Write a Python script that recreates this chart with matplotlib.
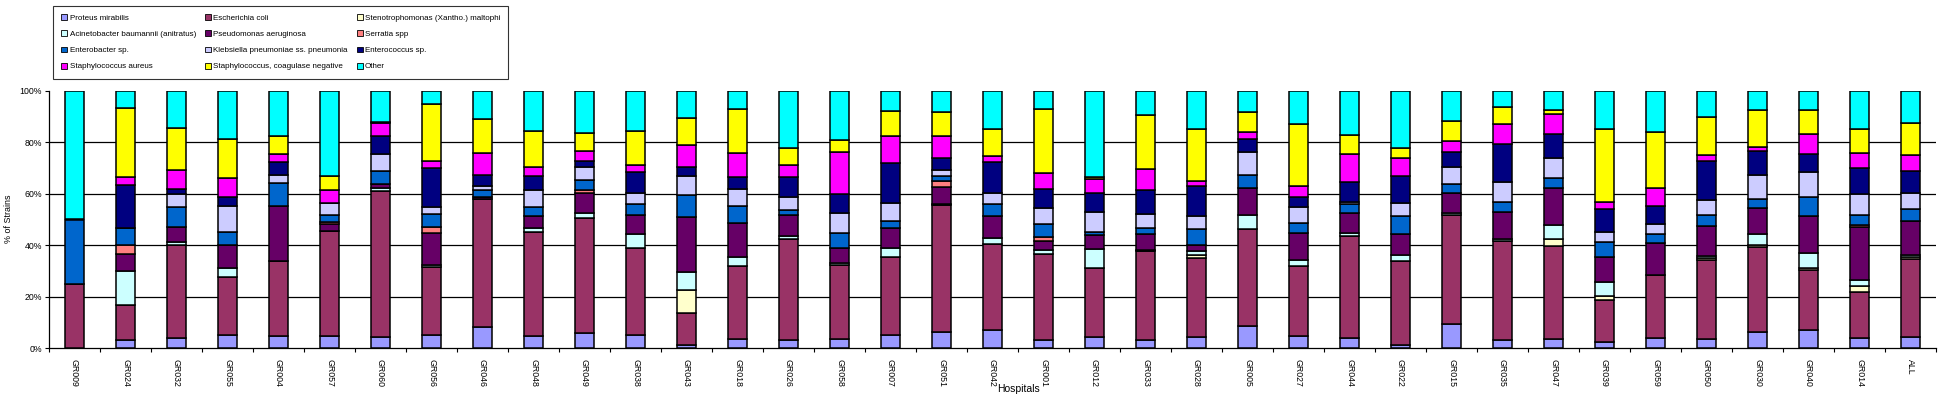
import numpy as np
import matplotlib
matplotlib.use("Agg")
import matplotlib.pyplot as plt
from matplotlib.patches import Patch

plt.rcParams['font.family'] = ['Liberation Sans', 'DejaVu Sans']

hospitals = ['GR009', 'GR024', 'GR032', 'GR055', 'GR004', 'GR057', 'GR060', 'GR056', 'GR046',
             'GR048', 'GR049', 'GR038', 'GR043', 'GR018', 'GR026', 'GR058', 'GR007', 'GR051',
             'GR042', 'GR001', 'GR012', 'GR033', 'GR028', 'GR005', 'GR027', 'GR044', 'GR022',
             'GR015', 'GR035', 'GR047', 'GR039', 'GR059', 'GR050', 'GR030', 'GR040', 'GR014', 'ALL']

# % of strains per organism, bottom of the stack first
proteus = [0, 3.3, 3.8, 5.2, 4.8, 4.5, 4.3, 4.9, 8.0, 4.8, 6.0, 5.2, 1.3, 3.4, 3.0, 3.4, 4.9, 6.3, 6.9,
           3.0, 4.1, 3.0, 4.4, 8.4, 4.8, 3.8, 1.3, 9.5, 3.0, 3.4, 2.5, 4.0, 3.6, 6.3, 6.9, 3.8, 4.4]
ecoli = [25, 13.3, 36.4, 22.6, 29.1, 41.1, 56.8, 26.8, 50.0, 40.3, 44.6, 33.8, 12.3, 28.7, 39.4, 28.9,
         30.7, 49.4, 33.6, 33.7, 27.2, 34.6, 30.8, 38.0, 27.2, 39.9, 32.4, 42.3, 38.7, 36.1, 16.3, 24.5,
         30.7, 32.9, 23.3, 18.0, 30.2]
steno = [0, 0, 0, 0, 0, 0, 0, 0, 0, 0, 0, 0, 9.1, 0, 0, 0, 0, 0, 0, 0, 0, 0, 0.8, 0, 0, 0, 0, 0, 0,
         3.0, 1.3, 0, 0.9, 1.0, 0.9, 2.2, 0.8]
acineto = [0, 13.3, 1.0, 3.3, 0, 0, 1.1, 0.6, 0, 1.5, 1.9, 5.4, 6.7, 3.3, 1.0, 0.8, 3.5, 0.5, 2.2, 1.5,
           7.2, 0.7, 1.6, 5.2, 2.3, 1.0, 2.6, 0.7, 0.7, 5.2, 5.4, 0, 0.7, 4.2, 5.8, 2.6, 0.9]
pseudo = [0, 6.7, 6.0, 9.1, 21.2, 2.6, 1.8, 12.6, 0.9, 4.8, 8.0, 7.4, 21.5, 13.4, 8.2, 5.8, 7.5, 6.6,
          8.5, 3.4, 5.4, 6.0, 2.6, 10.8, 10.4, 7.8, 8.1, 7.7, 10.4, 14.7, 10.1, 12.3, 11.4, 9.9, 14.5,
          20.3, 13.3]
serratia = [0, 3.3, 0, 0, 0, 1.0, 0, 2.1, 0, 0, 0.9, 0, 0, 0, 0, 0, 0, 2.0, 0, 1.5, 0, 0, 0, 0, 0,
            0, 0, 0, 0, 0, 0, 0, 0, 0, 0, 1.0, 0]
enterobacter = [25, 6.7, 7.5, 4.9, 9.0, 2.6, 4.7, 5.1, 2.4, 3.3, 4.1, 4.3, 8.7, 6.5, 2.2, 6.0, 2.9,
                2.2, 4.9, 5.1, 1.2, 2.3, 6.0, 4.8, 4.1, 3.6, 7.0, 3.5, 4.2, 3.9, 5.6, 3.6, 4.5, 3.7,
                7.5, 3.9, 4.5]
klebsiella = [0, 0, 5.3, 10.0, 3.4, 4.7, 6.8, 2.6, 1.8, 6.8, 5.0, 4.4, 7.4, 6.6, 5.1, 7.8, 7.1, 2.3,
              4.1, 6.2, 7.9, 5.6, 5.2, 9.2, 5.9, 0.8, 5.2, 6.6, 7.5, 7.8, 3.9, 3.8, 5.6, 9.2, 9.6,
              8.2, 6.1]
enterococcus = [0, 16.7, 1.9, 3.8, 4.7, 0, 6.8, 15.3, 4.3, 5.6, 2.2, 7.8, 3.6, 4.7, 7.8, 7.1, 15.3,
                4.8, 12.1, 7.6, 7.5, 9.3, 11.7, 5.1, 4.2, 7.5, 10.2, 6.1, 14.8, 9.1, 8.9, 6.9, 15.5,
                9.5, 7.0, 10.0, 8.8]
saureus = [0, 3.3, 7.4, 7.2, 3.3, 4.9, 5.1, 2.8, 8.5, 3.4, 4.0, 2.9, 8.4, 9.4, 4.4, 16.6, 10.4, 8.2,
           2.3, 6.1, 5.4, 8.3, 1.9, 2.4, 4.2, 11.1, 7.3, 4.2, 8.0, 7.7, 2.9, 7.1, 2.2, 1.7, 7.8, 6.0, 6.0]
cons = [0, 26.7, 16.3, 15.2, 6.8, 5.7, 0.6, 22.1, 13.2, 14.0, 7.1, 13.3, 10.6, 17.0, 6.9, 4.6, 10.1,
        9.7, 10.6, 24.8, 0.8, 21.0, 20.2, 7.8, 24.2, 7.5, 3.6, 7.9, 6.6, 1.7, 28.3, 22.0, 14.9, 14.2,
        9.3, 9.2, 12.7]
other = [50, 6.7, 14.4, 18.7, 17.7, 32.9, 12.0, 5.1, 10.9, 15.5, 16.2, 15.5, 10.4, 7.0, 22.0, 19.0,
         7.6, 8.0, 14.8, 7.1, 33.3, 9.2, 14.8, 8.3, 12.7, 17.0, 22.3, 11.5, 6.1, 7.4, 14.8, 15.8, 10.0,
         7.4, 7.4, 14.8, 12.3]

names = ['Proteus mirabilis', 'Escherichia coli', 'Stenotrophomonas (Xantho.) maltophi',
         'Acinetobacter baumannii (anitratus)', 'Pseudomonas aeruginosa', 'Serratia spp',
         'Enterobacter sp.', 'Klebsiella pneumoniae ss. pneumonia', 'Enterococcus sp.',
         'Staphylococcus aureus', 'Staphylococcus, coagulase negative', 'Other']
series = [proteus, ecoli, steno, acineto, pseudo, serratia, enterobacter, klebsiella,
          enterococcus, saureus, cons, other]
colors = ['#9999FF', '#993366', '#FFFFCC', '#CCFFFF', '#660066', '#FF8080',
          '#0066CC', '#CCCCFF', '#000080', '#FF00FF', '#FFFF00', '#00FFFF']

data = np.array(series, dtype=float)
data = data / data.sum(axis=0) * 100  # 100% stacked

fig = plt.figure(figsize=(19.45, 3.99), dpi=100)
ax = fig.add_axes([49 / 1945, 1 - 348 / 399, 1887 / 1945, 257 / 399])

x = np.arange(len(hospitals))
bottom = np.zeros(len(hospitals))
for vals, col in zip(data, colors):
    ax.bar(x, vals, 0.37, bottom=bottom, color=col, edgecolor='black', linewidth=1.1, zorder=3)
    bottom += vals

ax.set_xlim(-0.5, len(hospitals) - 0.5)
ax.set_ylim(0, 100)
for yv in [20, 40, 60, 80]:
    ax.axhline(yv, color='black', linewidth=0.9, zorder=1)

ax.set_yticks([0, 20, 40, 60, 80, 100])
ax.set_yticklabels(['0%', '20%', '40%', '60%', '80%', '100%'], fontsize=6.3)
ax.tick_params(axis='y', direction='out', length=3, width=0.8, pad=2)

ax.set_xticks(np.arange(len(hospitals) + 1) - 0.5)
ax.set_xticklabels([])
ax.tick_params(axis='x', which='major', direction='out', length=3, width=0.8)
ax.set_xticks(x, minor=True)
ax.set_xticklabels(hospitals, minor=True, rotation=-90, fontsize=6.3)
ax.tick_params(axis='x', which='minor', length=0, pad=8)

for s in ['top', 'right']:
    ax.spines[s].set_visible(False)
for s in ['left', 'bottom']:
    ax.spines[s].set_linewidth(0.9)

fig.text(9 / 1945, 1 - 219 / 399, '% of Strains', rotation=90, fontsize=6.4, ha='center', va='center')
fig.text(1018 / 1945, 1 - 389 / 399, 'Hospitals', fontsize=7.5, ha='center', va='center')

# legend is filled row by row in the original, matplotlib fills columns
order = [0, 3, 6, 9, 1, 4, 7, 10, 2, 5, 8, 11]
handles = [Patch(facecolor=colors[i], edgecolor='black', linewidth=0.6) for i in order]
leg = fig.legend(handles, [names[i] for i in order], ncol=3, loc='upper left',
                 bbox_to_anchor=(49 / 1945, 1 - 2 / 399), fontsize=5.8, frameon=True,
                 fancybox=False, edgecolor='black', handlelength=0.75, handleheight=0.75,
                 handletextpad=0.3, labelspacing=1.05, columnspacing=1.1, borderpad=1.0)
leg.get_frame().set_linewidth(0.8)

fig.savefig('out.png', dpi=100)
